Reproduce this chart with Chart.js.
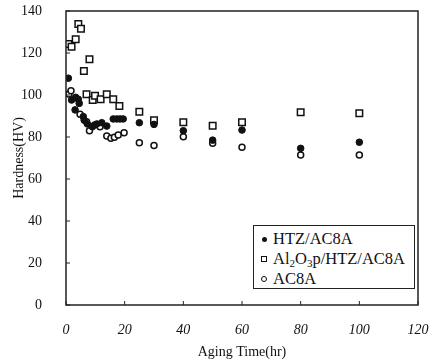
<!DOCTYPE html>
<html>
<head>
<meta charset="utf-8">
<script src="https://cdn.jsdelivr.net/npm/chart.js@4.4.1/dist/chart.umd.min.js"></script>
<style>
  body { margin: 0; background: #fff; }
  #wrap { position: relative; width: 433px; height: 364px; }
  #legend {
    position: absolute; left: 253px; top: 225px; width: 160px; height: 62px;
    border: 1px solid #222; background: #fff;
    font-family: "Liberation Serif", "Times New Roman", serif; font-size: 16.5px; color: #111;
  }
  #legend .row { position: absolute; left: 0; height: 18px; line-height: 18px; white-space: nowrap; }
  #legend .txt { position: absolute; left: 19px; top: 0; }
  #legend sub { font-size: 11px; vertical-align: -3px; line-height: 0; }
  .mk { position: absolute; box-sizing: border-box; }
  .mk.dot { left: 8px; top: 7px; width: 5px; height: 5px; border-radius: 50%; background: #111; }
  .mk.sq { left: 7px; top: 6px; width: 6px; height: 6px; border: 1.2px solid #111; }
  .mk.ci { left: 7px; top: 6px; width: 6px; height: 6px; border-radius: 50%; border: 1.3px solid #111; }
</style>
</head>
<body>
<div id="wrap">
  <canvas id="chart" width="433" height="364"></canvas>
  <div id="legend">
    <div class="row" style="top:4px"><span class="mk dot"></span><span class="txt">HTZ/AC8A</span></div>
    <div class="row" style="top:24px"><span class="mk sq"></span><span class="txt">Al<sub>2</sub>O<sub>3</sub>p/HTZ/AC8A</span></div>
    <div class="row" style="top:44px"><span class="mk ci"></span><span class="txt">AC8A</span></div>
  </div>
</div>
<script>
// aging time (hr) and hardness (HV)
const htzTime = [0.8, 1.9, 3.1, 3.3, 4.2, 4.5, 5.9, 6.2, 7.3, 9.0, 9.7, 10.5, 12.2, 13.9, 16.1, 17.3, 18.4, 19.5, 25, 30, 40, 50, 60, 80, 100];
const htzHard = [108, 97.6, 92.9, 98.9, 98, 96, 89.7, 88, 86.2, 84.9, 85.7, 86.2, 86.8, 85.2, 88.6, 88.6, 88.6, 88.6, 86.8, 86, 83, 78.5, 83.3, 74.6, 77.5];

const alTime = [0.8, 1.9, 3.3, 4.2, 5.1, 6.1, 7.0, 8.0, 9.1, 9.9, 11.8, 13.9, 16.1, 18.2, 25, 30, 40, 50, 60, 80, 100];
const alHard = [124.3, 123, 126.5, 133.8, 131.6, 111.4, 100.3, 117, 97.6, 99.7, 98, 100.3, 98, 94.8, 92, 88, 87, 85.4, 87, 91.8, 91.3];

const acTime = [1.0, 1.7, 4.8, 7.0, 8.0, 11.6, 13.9, 15.3, 16.5, 17.8, 19.8, 25, 30, 40, 50, 60, 80, 100];
const acHard = [100.5, 102, 90.8, 87.3, 83, 84.9, 80.5, 79.4, 79.9, 81, 82, 77.3, 75.9, 80.1, 77, 75.1, 71.4, 71.4];

const xTicks = [0, 20, 40, 60, 80, 100, 120];
const yTicks = [0, 20, 40, 60, 80, 100, 120, 140];

const seriesNames = ['HTZ/AC8A', 'Al2O3p/HTZ/AC8A', 'AC8A'];

function pts(xs, ys) {
  return xs.map((x, i) => ({ x: x, y: ys[i] }));
}

const ink = '#111';
const serif = '"Liberation Serif", "Times New Roman", serif';

// no extra room for overhanging tick labels, the layout padding sets the box
function noOverhang(s) {
  s.paddingLeft = 0; s.paddingRight = 0; s.paddingTop = 0; s.paddingBottom = 0;
}

// box round the plot and short ticks pointing inward
const framePlugin = {
  id: 'frame',
  afterDraw(chart) {
    const ctx = chart.ctx;
    const a = chart.chartArea;
    const xs = chart.scales.x, ys = chart.scales.y;
    ctx.save();
    ctx.strokeStyle = '#222';
    ctx.lineWidth = 1.5;
    ctx.strokeRect(a.left, a.top, a.right - a.left, a.bottom - a.top);
    ctx.lineWidth = 1;
    ctx.beginPath();
    xTicks.forEach(v => {
      const px = xs.getPixelForValue(v);
      ctx.moveTo(px, a.bottom); ctx.lineTo(px, a.bottom - 4);
    });
    yTicks.forEach(v => {
      const py = ys.getPixelForValue(v);
      ctx.moveTo(a.left, py); ctx.lineTo(a.left + 4, py);
    });
    ctx.stroke();
    ctx.restore();
  }
};

new Chart(document.getElementById('chart'), {
  type: 'scatter',
  data: {
    datasets: [
      {
        label: seriesNames[0],
        data: pts(htzTime, htzHard),
        pointStyle: 'circle',
        pointRadius: 3.3,
        backgroundColor: ink,
        borderColor: ink,
        borderWidth: 1
      },
      {
        label: seriesNames[1],
        data: pts(alTime, alHard),
        pointStyle: 'rect',
        pointRadius: 4.6,
        backgroundColor: '#fff',
        borderColor: ink,
        borderWidth: 1.5
      },
      {
        label: seriesNames[2],
        data: pts(acTime, acHard),
        pointStyle: 'circle',
        pointRadius: 3,
        backgroundColor: '#fff',
        borderColor: ink,
        borderWidth: 1.5
      }
    ]
  },
  options: {
    responsive: false,
    animation: false,
    layout: { padding: { top: 11, right: 15, left: 0, bottom: 0 } },
    plugins: {
      legend: { display: false },
      tooltip: { enabled: false }
    },
    scales: {
      x: {
        type: 'linear',
        min: 0,
        max: 120,
        afterBuildTicks: s => { s.ticks = xTicks.map(v => ({ value: v })); },
        ticks: { color: ink, padding: 9, font: { family: serif, size: 14, style: 'italic' } },
        grid: { display: false },
        border: { display: false },
        title: {
          display: true,
          text: 'Aging Time(hr)',
          color: ink,
          font: { family: serif, size: 14 },
          padding: { top: 0, bottom: 3 }
        },
        afterFit: s => { s.height = 59; noOverhang(s); }
      },
      y: {
        min: 0,
        max: 140,
        afterBuildTicks: s => { s.ticks = yTicks.map(v => ({ value: v })); },
        ticks: { color: ink, padding: 16, font: { family: serif, size: 14 } },
        grid: { display: false },
        border: { display: false },
        title: {
          display: true,
          text: 'Hardness(HV)',
          color: ink,
          font: { family: serif, size: 14 },
          padding: { top: 11, bottom: 0 }
        },
        afterFit: s => { s.width = 66; noOverhang(s); }
      }
    }
  },
  plugins: [framePlugin]
});
</script>
</body>
</html>
